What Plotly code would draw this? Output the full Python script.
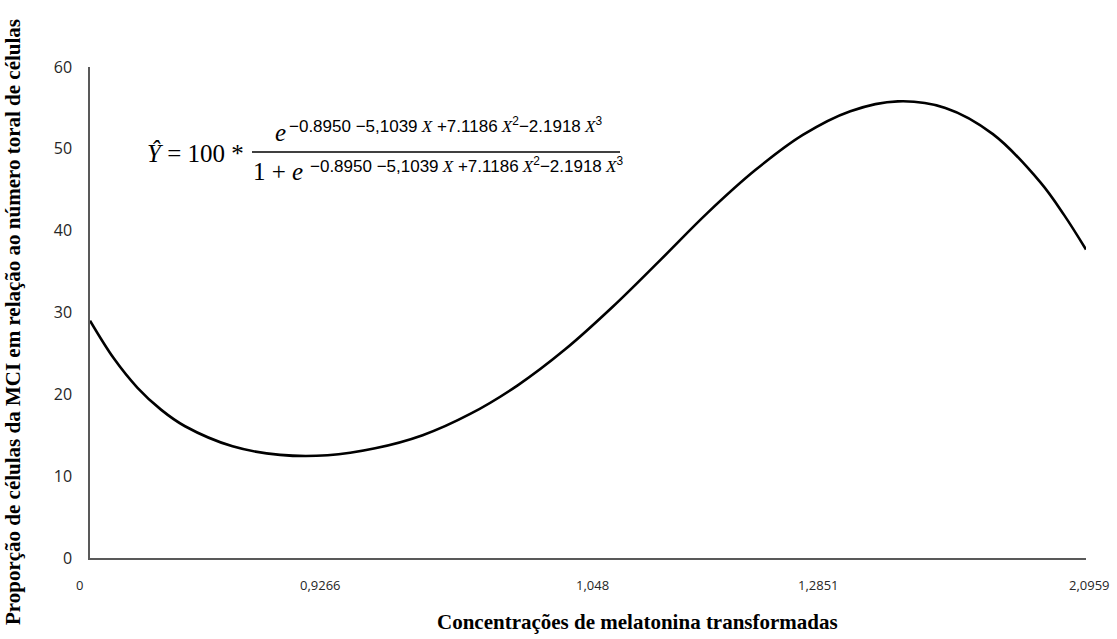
import plotly.graph_objects as go

# Curve values (X = transformed melatonin concentration, Y = %)
x_vals = [0.0, 0.05, 0.1, 0.15, 0.2, 0.3, 0.4, 0.5, 0.6, 0.7, 0.8, 0.9, 1.0,
          1.1, 1.2, 1.3, 1.4, 1.5, 1.6, 1.7, 1.8, 1.9, 2.0, 2.05, 2.0959]
y_vals = [29.0, 24.4, 20.8, 18.1, 16.1, 13.65, 12.6, 12.55, 13.4, 15.0, 17.6, 21.1, 25.5,
          30.7, 36.4, 42.2, 47.4, 51.7, 54.6, 55.8, 55.0, 51.8, 45.9, 41.9, 37.7]

x_tick_labels = ["0", "0,9266", "1,048", "1,2851", "2,0959"]
y_tick_vals = [0, 10, 20, 30, 40, 50, 60]

y_title = "Proporção de células da MCI em relação ao número toral de células"
x_title = "Concentrações de melatonina transformadas"

W, H = 1117, 639
L, R, T, B = 90, 1086, 67, 558


def px(p):
    return (p - L) / (R - L)


def py(p):
    return (B - p) / (B - T)


fig = go.Figure()
fig.add_trace(go.Scatter(
    x=x_vals, y=y_vals, mode="lines",
    line=dict(color="black", width=2.6, shape="spline", smoothing=1.0),
    hoverinfo="skip", showlegend=False,
))

serif = "Liberation Serif, Times New Roman, serif"
sans = "Open Sans, Liberation Sans, sans-serif"

annotations = []
label_px = [79, 320, 592, 818, 1089]
for lab, p in zip(x_tick_labels, label_px):
    annotations.append(dict(x=px(p), y=py(585), xref="paper", yref="paper", text=lab,
                            showarrow=False, xanchor="center", yanchor="middle",
                            font=dict(family=sans, size=13, color="#262626")))

annotations.append(dict(x=px(13), y=py(322), xref="paper", yref="paper", text="<b>" + y_title + "</b>",
                        textangle=-90, showarrow=False, xanchor="center", yanchor="middle",
                        font=dict(family=serif, size=21, color="black")))
annotations.append(dict(x=px(637), y=py(622), xref="paper", yref="paper", text="<b>" + x_title + "</b>",
                        showarrow=False, xanchor="center", yanchor="middle",
                        font=dict(family=serif, size=21, color="black")))

# Equation
eq_main = dict(family=serif, size=25, color="black")
eq_exp = dict(family="Liberation Sans, Arial, sans-serif", size=17, color="black")
ix = '<span style="font-family:Liberation Serif"> <i>X</i></span>'
exponent = ("−0.8950 −5,1039" + ix + " +7.1186" + ix + "<sup>2</sup>"
            "−2.1918" + ix + "<sup>3</sup>")
annotations += [
    dict(x=px(145), y=py(153), xref="paper", yref="paper", text="<i>Ŷ</i> = 100 *",
         showarrow=False, xanchor="left", yanchor="middle", font=eq_main),
    dict(x=px(273), y=py(132), xref="paper", yref="paper", text="<i>e</i>",
         showarrow=False, xanchor="left", yanchor="middle", font=eq_main),
    dict(x=px(287), y=py(125), xref="paper", yref="paper", text=exponent,
         showarrow=False, xanchor="left", yanchor="middle", font=eq_exp),
    dict(x=px(251), y=py(171), xref="paper", yref="paper", text="1 + <i>e</i>",
         showarrow=False, xanchor="left", yanchor="middle", font=eq_main),
    dict(x=px(308), y=py(165), xref="paper", yref="paper", text=exponent,
         showarrow=False, xanchor="left", yanchor="middle", font=eq_exp),
]

shapes = [dict(type="line", xref="paper", yref="paper", x0=px(252), x1=px(620),
               y0=py(152), y1=py(152), line=dict(color="black", width=1.3))]

fig.update_layout(
    width=W, height=H,
    margin=dict(l=L, r=W - R, t=T, b=H - B, pad=0),
    paper_bgcolor="white", plot_bgcolor="white",
    xaxis=dict(range=[0, 2.0959], showgrid=False, zeroline=False, showticklabels=False,
               showline=True, linecolor="#595959", linewidth=1.5, ticks=""),
    yaxis=dict(range=[0, 60], tickvals=y_tick_vals, showgrid=False, zeroline=False,
               showline=True, linecolor="#595959", linewidth=1.5, ticks="",
               ticklabelstandoff=13,
               tickfont=dict(family=sans, size=16, color="#262626")),
    annotations=annotations, shapes=shapes,
)

fig.write_html("out.html", config={"displayModeBar": False},
               post_script="document.body.style.margin='0';document.body.style.overflow='hidden';")
